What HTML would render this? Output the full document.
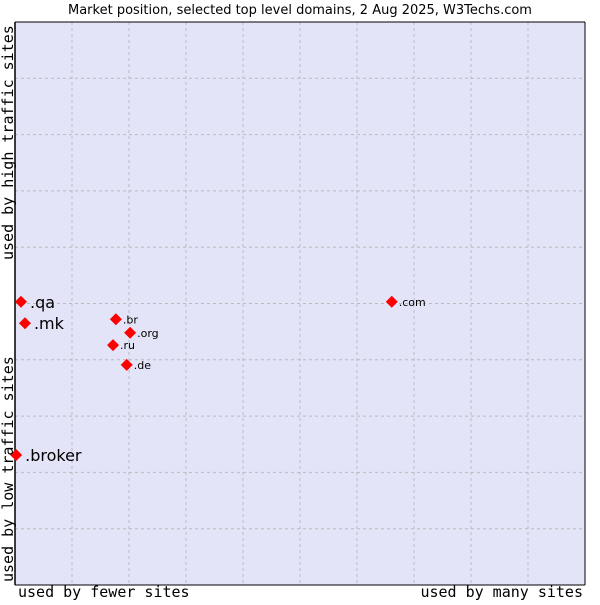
<!DOCTYPE html>
<html><head><meta charset="utf-8"><style>
body{margin:0;background:#fff;width:600px;height:600px;overflow:hidden}
svg text{font-family:"DejaVu Sans","Liberation Sans",sans-serif}
.mono{font-family:"DejaVu Sans Mono","Liberation Mono",monospace;font-size:15px}
</style></head><body>
<svg id="chart" width="600" height="600">
<text x="300" y="14" text-anchor="middle" font-size="13">Market position, selected top level domains, 2 Aug 2025, W3Techs.com</text>
<rect x="15" y="22" width="570" height="563" fill="#e3e4f8"/>
<g id="grid"></g>
<line x1="15" y1="22" x2="15" y2="585" stroke="#000" stroke-width="1.5"/>
<line x1="15" y1="22" x2="585" y2="22" stroke="#000"/>
<line x1="585" y1="22" x2="585" y2="585" stroke="#000"/>
<line x1="15" y1="585" x2="585" y2="585" stroke="#000"/>
<g id="points"></g>
<text class="mono" x="18" y="597">used by fewer sites</text>
<text class="mono" x="583" y="597" text-anchor="end">used by many sites</text>
<text class="mono" transform="translate(13,260) rotate(-90)">used by high traffic sites</text>
<text class="mono" transform="translate(13,582) rotate(-90)">used by low traffic sites</text>
</svg>
<script>
const labels=[".com",".qa",".mk",".br",".org",".ru",".de",".broker"];
const xValues=[66.1,1.05,1.75,17.7,20.2,17.2,19.6,0.2];
const yValues=[50.3,50.3,46.5,47.2,44.8,42.6,39.1,23.1];
const bigLabel=[false,true,true,false,false,false,false,true];
const X0=15,X1=585,Y0=585,Y1=22;
const sx=v=>X0+(X1-X0)*v/100, sy=v=>Y0-(Y0-Y1)*v/100;
const NS="http://www.w3.org/2000/svg";
const grid=document.getElementById('grid');
for(let i=1;i<10;i++){
  const v=document.createElementNS(NS,'line');
  v.setAttribute('x1',sx(i*10));v.setAttribute('x2',sx(i*10));v.setAttribute('y1',Y1);v.setAttribute('y2',Y0);
  v.setAttribute('stroke','#bbb');v.setAttribute('stroke-dasharray','3,3');
  
  
  grid.appendChild(v);
  const h=document.createElementNS(NS,'line');
  h.setAttribute('y1',sy(i*10));h.setAttribute('y2',sy(i*10));h.setAttribute('x1',X0);h.setAttribute('x2',X1);
  h.setAttribute('stroke','#bbb');h.setAttribute('stroke-dasharray','3,3');
  
  
  grid.appendChild(h);
}
const pts=document.getElementById('points');
labels.forEach((l,i)=>{
  const x=sx(xValues[i]),y=sy(yValues[i]);
  const d=document.createElementNS(NS,'path');
  d.setAttribute('d',`M${x-6},${y}L${x},${y-6}L${x+6},${y}L${x},${y+6}Z`);
  d.setAttribute('fill','#f00');
  
  
  pts.appendChild(d);
  const t=document.createElementNS(NS,'text');
  const big=bigLabel[i];
  t.setAttribute('x',x+(big?9:7));t.setAttribute('y',y+(big?6:4));
  t.setAttribute('font-size',big?16:11);
  t.textContent=l;
  
  
  pts.appendChild(t);
});
</script>
</body></html>
